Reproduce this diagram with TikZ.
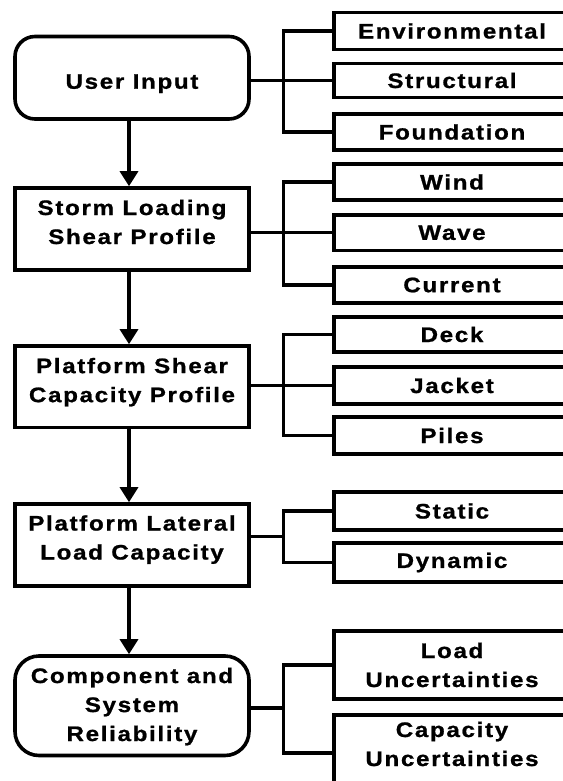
\documentclass[tikz,border=0pt]{standalone}
\usepackage{fontspec}
\setmainfont{Liberation Sans}[FakeStretch=1.15, LetterSpace=8, BoldFeatures={FakeBold=1}]
\usetikzlibrary{arrows.meta}

\tikzset{
  txt/.style={font=\bfseries\fontsize{21}{29}\selectfont, align=center, inner sep=0pt},
  box/.style={draw, line width=3.6pt, inner sep=0pt},
  lbox/.style={box, minimum width=234pt},
  rbox/.style={box, txt, minimum width=236pt},
  link/.style={line width=3.3pt},
  flow/.style={line width=3.3pt, -{Triangle[width=18pt,length=15pt]}}
}

\begin{document}
\begin{tikzpicture}[x=1pt,y=-1pt]
\useasboundingbox (0,0) rectangle (562,781);

% main process column
\node[lbox, rounded corners=20pt, minimum height=82.5pt] (ui) at (132,77.75) {};
\node[txt] (ui-t) at (132,83.7) {User Input};
\node[lbox, minimum height=82pt] (storm) at (132,229) {};
\node[txt] (storm-t) at (132,222) {Storm Loading\\Shear Profile};
\node[lbox, minimum height=81.5pt] (shear) at (132,386.75) {};
\node[txt] (shear-t) at (132,382.2) {Platform Shear\\Capacity Profile};
\node[lbox, minimum height=82pt] (lateral) at (132,545) {};
\node[txt] (lateral-t) at (132,539.6) {Platform Lateral\\Load Capacity};
\node[lbox, rounded corners=24pt, minimum height=99.5pt] (rel) at (132,705.75) {};
\node[txt] (rel-t) at (132,706.6) {Component and\\System\\Reliability};

\draw[flow] ([xshift=-3pt]ui.south) -- ([xshift=-3pt]storm.north);
\draw[flow] ([xshift=-3pt]storm.south) -- ([xshift=-3pt]shear.north);
\draw[flow] ([xshift=-3pt]shear.south) -- ([xshift=-3pt]lateral.north);
\draw[flow] ([xshift=-3pt]lateral.south) -- ([xshift=-3pt]rel.north);

% detail boxes on the right
\node[rbox, minimum height=37pt] (env) at (452,31) {Environmental};
\node[rbox, minimum height=34pt] (str) at (452,80.5) {Structural};
\node[rbox, minimum height=36.5pt] (fnd) at (452,132) {Foundation};
\node[rbox, minimum height=35.5pt] (wind) at (452,182) {Wind};
\node[rbox, minimum height=35.5pt] (wave) at (452,232.75) {Wave};
\node[rbox, minimum height=36pt] (cur) at (452,285) {Current};
\node[rbox, minimum height=35pt] (deck) at (452,334.5) {Deck};
\node[rbox, minimum height=37pt] (jack) at (452,385.5) {Jacket};
\node[rbox, minimum height=37pt] (piles) at (452,435.5) {Piles};
\node[rbox, minimum height=38pt] (static) at (452,511) {Static};
\node[rbox, minimum height=39pt] (dyn) at (452,562.5) {Dynamic};
\node[rbox, minimum height=68pt] (lu) at (452,665) {Load\\Uncertainties};
\node[box, minimum width=236pt, minimum height=76pt] (cu) at (452,753) {};
\node[txt] (cu-t) at (452,744) {Capacity\\Uncertainties};

% bracket junctions
\coordinate (j1) at (283.5,80.5);
\coordinate (j2) at (283.5,232.75);
\coordinate (j3) at (283.5,385.5);
\coordinate (j4) at (283.5,536.75);
\coordinate (j5) at (283.5,708);

\draw[link] (env.west) -| (j1) |- (fnd.west);
\draw[link] (ui.east |- str.west) -- (str.west);
\draw[link] (wind.west) -| (j2) |- (cur.west);
\draw[link] (storm.east |- wave.west) -- (wave.west);
\draw[link] (deck.west) -| (j3) |- (piles.west);
\draw[link] (shear.east |- jack.west) -- (jack.west);
\draw[link] (static.west) -| (j4) |- (dyn.west);
\draw[link] (lateral.east |- j4) -- (j4);
\draw[link] (lu.west) -| (j5) |- (cu.west);
\draw[link] (rel.east |- j5) -- (j5);
\end{tikzpicture}
\end{document}
